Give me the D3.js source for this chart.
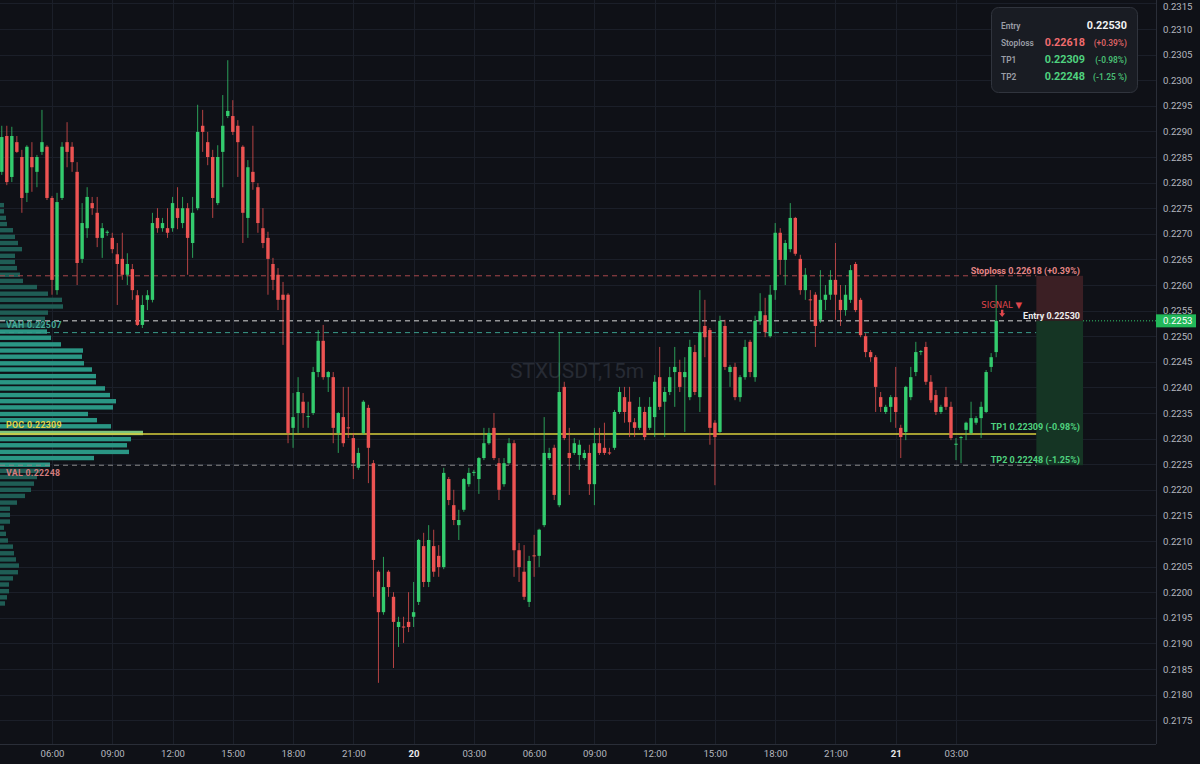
<!DOCTYPE html>
<html><head><meta charset="utf-8">
<script src="https://cdn.jsdelivr.net/npm/d3@7"></script>
<style>
html,body{margin:0;padding:0;background:#0f1117;}
svg{display:block;}
</style></head><body>
<svg id="c" width="1200" height="764"></svg>
<script>
// ---------------- DATA ----------------
const symbolLabel = "STXUSDT,15m";
const startTime = "2024-03-19T03:30:00Z";   // first candle
const intervalMinutes = 15;

const open = [
.22821,.22891,.22811,.22879,.22850,.22780,.22850,.22821,.22860,.22870,
.22770,.22590,.22770,.22879,.22870,.22821,.22651,.22711,.22760,.22741,
.22692,.22702,.22692,.22660,.22651,.22620,.22631,.22580,.22522,.22571,
.22571,.22731,.22711,.22711,.22711,.22750,.22721,.22750,.22682,.22750,
.22911,.22879,.22850,.22760,.22860,.22930,.22930,.22911,.22870,.22731,
.22821,.22791,.22711,.22692,.22641,.22620,.22581,.22581,.22321,.22350,
.22372,.22342,.22350,.22430,.22491,.22420,.22420,.22311,.22342,.22322,
.22301,.22243,.22311,.22360,.22252,.22040,.21961,.22040,.21991,.21932,
.21933,.21942,.21952,.21981,.22090,.22020,.22090,.22071,.22049,.22221,
.22170,.22131,.22161,.22211,.22233,.22221,.22262,.22291,.22321,.22252,
.22211,.22252,.22291,.22082,.22040,.21981,.22072,.22071,.22131,.22262,
.22282,.22170,.22401,.22272,.22272,.22268,.22262,.22272,.22211,.22291,
.22282,.22273,.22282,.22352,.22381,.22372,.22332,.22321,.22352,.22321,
.22342,.22420,.22372,.22391,.22430,.22430,.22420,.22381,.22469,.22381,
.22520,.22512,.22331,.22313,.22520,.22430,.22440,.22381,.22420,.22489,
.22420,.22530,.22541,.22500,.22590,.22702,.22649,.22670,.22731,.22651,
.22590,.22572,.22581,.22532,.22571,.22581,.22610,.22571,.22551,.22571,
.22641,.22571,.22500,.22469,.22459,.22381,.22352,.22362,.22381,.22321,
.22313,.22381,.22430,.22469,.22479,.22411,.22385,.22352,.22381,.22362,
.22288,.22301,.22317,.22311,.22331,.22340,.22352,.22440,.22469];

const high = [
.22911,.22911,.22909,.22891,.22864,.22873,.22879,.22854,.22942,.22873,
.22774,.22780,.22879,.22918,.22879,.22840,.22760,.22791,.22772,.22772,
.22721,.22707,.22702,.22682,.22702,.22662,.22641,.22590,.22580,.22590,
.22741,.22750,.22731,.22750,.22772,.22791,.22772,.22760,.22772,.22952,
.22942,.22899,.22864,.22873,.22971,.23039,.22961,.22922,.22873,.22844,
.22911,.22799,.22750,.22704,.22653,.22633,.22606,.22584,.22389,.22420,
.22389,.22372,.22440,.22512,.22522,.22432,.22430,.22352,.22401,.22401,
.22311,.22282,.22375,.22366,.22258,.22043,.22069,.22043,.22000,.21952,
.21952,.22000,.22020,.22104,.22116,.22131,.22122,.22092,.22243,.22225,
.22200,.22161,.22223,.22243,.22239,.22264,.22321,.22321,.22350,.22262,
.22262,.22301,.22297,.22096,.22092,.22071,.22112,.22124,.22342,.22282,
.22288,.22508,.22411,.22321,.22301,.22297,.22278,.22288,.22321,.22321,
.22331,.22282,.22356,.22401,.22401,.22401,.22340,.22381,.22362,.22381,
.22424,.22479,.22401,.22440,.22479,.22454,.22459,.22493,.22483,.22590,
.22571,.22516,.22336,.22540,.22532,.22444,.22448,.22424,.22493,.22493,
.22540,.22584,.22575,.22600,.22721,.22711,.22688,.22760,.22733,.22659,
.22633,.22590,.22586,.22629,.22600,.22629,.22682,.22600,.22600,.22639,
.22645,.22575,.22506,.22473,.22463,.22391,.22366,.22385,.22440,.22327,
.22403,.22440,.22489,.22473,.22489,.22424,.22395,.22366,.22401,.22372,
.22301,.22305,.22333,.22372,.22344,.22372,.22434,.22467,.22600];

const low = [
.22815,.22795,.22801,.22858,.22741,.22762,.22782,.22791,.22854,.22766,
.22581,.22581,.22766,.22830,.22821,.22600,.22643,.22692,.22737,.22674,
.22653,.22696,.22662,.22561,.22610,.22600,.22571,.22520,.22516,.22551,
.22566,.22702,.22704,.22692,.22704,.22709,.22711,.22620,.22653,.22746,
.22860,.22834,.22731,.22756,.22791,.22926,.22893,.22811,.22682,.22692,
.22786,.22702,.22672,.22581,.22590,.22551,.22483,.22291,.22282,.22311,
.22321,.22321,.22346,.22420,.22415,.22391,.22291,.22272,.22284,.22301,
.22221,.22239,.22307,.22213,.21991,.21823,.21956,.21991,.21852,.21893,
.21901,.21922,.21932,.21975,.22010,.22010,.22030,.22030,.22045,.22170,
.22131,.22102,.22157,.22206,.22227,.22192,.22258,.22288,.22258,.22180,
.22206,.22249,.22030,.22020,.21985,.21971,.22030,.22049,.22127,.22258,
.22180,.22166,.22297,.22190,.22268,.22239,.22258,.22190,.22170,.22268,
.22268,.22268,.22278,.22348,.22331,.22303,.22303,.22317,.22297,.22317,
.22303,.22356,.22303,.22385,.22362,.22391,.22313,.22375,.22385,.22352,
.22459,.22288,.22209,.22311,.22434,.22401,.22375,.22372,.22415,.22420,
.22411,.22522,.22498,.22497,.22571,.22620,.22600,.22664,.22657,.22581,
.22571,.22532,.22479,.22526,.22551,.22571,.22532,.22520,.22540,.22565,
.22547,.22498,.22459,.22450,.22352,.22352,.22348,.22332,.22321,.22262,
.22297,.22375,.22422,.22463,.22405,.22370,.22346,.22348,.22356,.22297,
.22258,.22252,.22297,.22307,.22327,.22301,.22350,.22430,.22459];

const close = [
.22889,.22801,.22891,.22860,.22770,.22870,.22830,.22850,.22879,.22770,
.22610,.22762,.22870,.22860,.22840,.22643,.22721,.22772,.22750,.22692,
.22711,.22704,.22670,.22641,.22620,.22641,.22590,.22522,.22561,.22580,
.22721,.22711,.22721,.22702,.22760,.22731,.22750,.22692,.22741,.22899,
.22899,.22850,.22770,.22850,.22911,.22940,.22899,.22879,.22741,.22830,
.22801,.22721,.22682,.22651,.22610,.22571,.22571,.22311,.22342,.22391,
.22350,.22344,.22430,.22491,.22420,.22430,.22321,.22350,.22291,.22320,
.22252,.22272,.22372,.22282,.22063,.21961,.22010,.22010,.21942,.21942,
.21931,.21932,.21961,.22102,.22020,.22102,.22040,.22049,.22233,.22180,
.22141,.22141,.22221,.22233,.22235,.22262,.22291,.22311,.22262,.22200,
.22252,.22291,.22082,.22049,.21991,.22061,.22070,.22122,.22272,.22272,
.22190,.22391,.22301,.22262,.22291,.22288,.22272,.22211,.22291,.22272,
.22272,.22271,.22352,.22391,.22352,.22332,.22321,.22362,.22303,.22362,
.22411,.22362,.22391,.22420,.22440,.22401,.22430,.22479,.22391,.22508,
.22498,.22321,.22303,.22530,.22440,.22440,.22381,.22420,.22479,.22430,
.22530,.22549,.22508,.22581,.22702,.22649,.22682,.22731,.22661,.22590,
.22620,.22570,.22520,.22571,.22581,.22610,.22581,.22551,.22581,.22629,
.22551,.22502,.22469,.22459,.22401,.22362,.22362,.22381,.22352,.22303,
.22401,.22420,.22469,.22471,.22411,.22375,.22352,.22362,.22362,.22301,
.22290,.22303,.22331,.22340,.22340,.22362,.22430,.22459,.22530];

// volume profile (price level of each row, relative volume)
const profileLevels = [
.22756,.22744,.22731,.22719,.22707,.22694,.22682,.22670,.22657,.22645,
.22633,.22620,.22608,.22596,.22583,.22571,.22558,.22546,.22534,.22521,
.22509,.22497,.22484,.22472,.22460,.22447,.22435,.22422,.22410,.22398,
.22385,.22373,.22361,.22348,.22336,.22324,.22311,.22299,.22287,.22274,
.22262,.22249,.22237,.22225,.22212,.22200,.22188,.22175,.22163,.22151,
.22138,.22126,.22114,.22101,.22089,.22076,.22064,.22052,.22039,.22027,
.22015,.22002,.21990,.21978];
const profileVolume = [
4,4,6,7,13,15,18,22,15,15,
17,20,23,37,48,62,63,48,45,45,
47,51,61,83,82,84,92,96,96,105,
110,116,113,88,97,111,143,131,127,129,
94,50,40,37,34,31,25,17,10,10,
10,4,6,8,13,14,16,19,18,13,
9,9,7,5];
const VAH = 0.22507, POC = 0.22309, VAL = 0.22248;

// trade levels
const entryPrice = 0.22530, stopPrice = 0.22618, tp1Price = 0.22309, tp2Price = 0.22248;
const stopPct = "+0.39%", tp1Pct = "-0.98%", tp2Pct = "-1.25%";
const lastPriceLabel = "0.2253";

// axis ticks
const priceTicks = [0.2175,0.2180,0.2185,0.2190,0.2195,0.2200,0.2205,0.2210,0.2215,0.2220,
  0.2225,0.2230,0.2235,0.2240,0.2245,0.2250,0.2255,0.2260,0.2265,0.2270,0.2275,0.2280,
  0.2285,0.2290,0.2295,0.2300,0.2305,0.2310,0.2315];
const timeTicks = ["2024-03-19T06:00:00Z","2024-03-19T09:00:00Z","2024-03-19T12:00:00Z","2024-03-19T15:00:00Z",
  "2024-03-19T18:00:00Z","2024-03-19T21:00:00Z","2024-03-20T00:00:00Z","2024-03-20T03:00:00Z",
  "2024-03-20T06:00:00Z","2024-03-20T09:00:00Z","2024-03-20T12:00:00Z","2024-03-20T15:00:00Z",
  "2024-03-20T18:00:00Z","2024-03-20T21:00:00Z","2024-03-21T00:00:00Z","2024-03-21T03:00:00Z"];

// ---------------- DRAW ----------------
const W = 1200, H = 764, plotR = 1156, plotB = 744;
const C = {bg:"#0f1117", grid:"#1b1f29", axisText:"#b4b7bf", up:"#34cc6e", down:"#ec5352"};
const FONT = "Roboto, 'Liberation Sans', sans-serif";
const svg = d3.select("#c");

const x = d3.scaleUtc()
  .domain([new Date("2024-03-19T06:00:00Z"), new Date("2024-03-21T03:00:00Z")])
  .range([52, 956]);
const y = d3.scaleLinear().domain([0.2175, 0.2310]).range([720.2, 29]);
const t0 = new Date(startTime).getTime();
const candles = open.map((o, i) => ({
  t: new Date(t0 + i * intervalMinutes * 60000), o, h: high[i], l: low[i], c: close[i]
}));
const lastT = candles[candles.length - 1].t;
const boxX0 = x(new Date(lastT.getTime() + 8 * 15 * 60000));
const boxX1 = x(new Date(lastT.getTime() + 17.3 * 15 * 60000));

svg.append("rect").attr("width", W).attr("height", H).attr("fill", C.bg);
svg.append("defs").append("clipPath").attr("id", "plot")
  .append("rect").attr("x", 0).attr("y", 0).attr("width", plotR).attr("height", plotB);
const plot = svg.append("g").attr("clip-path", "url(#plot)");

// grid
plot.append("g").selectAll("line").data(priceTicks).join("line")
  .attr("x1", 0).attr("x2", plotR).attr("y1", d => Math.round(y(d)) + 0.5).attr("y2", d => Math.round(y(d)) + 0.5)
  .attr("stroke", C.grid).attr("stroke-width", 1);
plot.append("g").selectAll("line").data(timeTicks).join("line")
  .attr("x1", d => Math.round(x(new Date(d))) + 0.5).attr("x2", d => Math.round(x(new Date(d))) + 0.5)
  .attr("y1", 0).attr("y2", plotB)
  .attr("stroke", C.grid).attr("stroke-width", 1);

// watermark
plot.append("text").attr("x", 577).attr("y", 378).attr("text-anchor", "middle")
  .attr("font-family", FONT).attr("font-size", 21).attr("fill", "#272b34").text(symbolLabel);

// volume profile
const vx = d3.scaleLinear().domain([0, 150]).range([0, 150]);
plot.append("g").selectAll("rect").data(profileLevels).join("rect")
  .attr("x", 0).attr("y", d => y(d) - 2.2).attr("height", 4.4)
  .attr("width", (d, i) => vx(profileVolume[i]))
  .attr("fill", (d, i) => {
    if (profileVolume[i] === d3.max(profileVolume)) return "#7cc47c";
    return (d <= VAH + 0.00003 && d >= VAL - 0.00003) ? "#2a9684" : "#1f5d55";
  });

// level lines
function hline(p, color, dash, w) {
  plot.append("line").attr("x1", 0).attr("x2", boxX0)
    .attr("y1", y(p)).attr("y2", y(p))
    .attr("stroke", color).attr("stroke-width", w || 1)
    .attr("stroke-dasharray", dash);
}
hline(stopPrice, "#a8474c", "5,4");
hline(VAH, "#3a9c8b", "5,4");
hline(tp2Price, "#8a8a8a", "5,4");
hline(entryPrice, "#d6d6d6", "5,4");
hline(POC, "#d8cf3c", null, 1.6);

// position box
plot.append("rect").attr("x", boxX0).attr("width", boxX1 - boxX0)
  .attr("y", y(stopPrice)).attr("height", y(entryPrice) - y(stopPrice)).attr("fill", "#3b1f24");
plot.append("rect").attr("x", boxX0).attr("width", boxX1 - boxX0)
  .attr("y", y(entryPrice)).attr("height", y(tp2Price) - y(entryPrice)).attr("fill", "#153524");
plot.append("line").attr("x1", boxX1).attr("x2", plotR).attr("y1", y(entryPrice)).attr("y2", y(entryPrice))
  .attr("stroke", C.up).attr("stroke-width", 1).attr("stroke-dasharray", "1,2");

// candles
const bw = 3.4;
const cg = plot.append("g");
cg.selectAll("line").data(candles).join("line")
  .attr("x1", d => x(d.t)).attr("x2", d => x(d.t))
  .attr("y1", d => y(d.h)).attr("y2", d => y(d.l))
  .attr("stroke", d => d.c >= d.o ? C.up : C.down).attr("stroke-width", 1).attr("stroke-opacity", 0.75);
cg.selectAll("rect").data(candles).join("rect")
  .attr("x", d => x(d.t) - bw / 2).attr("width", bw)
  .attr("y", d => y(Math.max(d.o, d.c)))
  .attr("height", d => Math.max(1, Math.abs(y(d.o) - y(d.c))))
  .attr("fill", d => d.c >= d.o ? C.up : C.down);

// profile labels
function ltxt(txt, yy, color) {
  plot.append("text").attr("x", 6).attr("y", yy).attr("font-family", FONT)
    .attr("font-size", 8.8).attr("font-weight", 700).attr("fill", color)
    .attr("letter-spacing", 0.3).attr("dominant-baseline", "middle").text(txt);
}
ltxt("VAH  " + VAH.toFixed(5), y(VAH) - 6.5, "#45a898");
ltxt("POC  " + POC.toFixed(5), y(POC) - 8, "#e2d448");
ltxt("VAL  " + VAL.toFixed(5), y(VAL) + 8, "#d27c7e");

// trade labels
function rtxt(txt, yy, color, weight, size) {
  plot.append("text").attr("x", 1080).attr("y", yy).attr("text-anchor", "end")
    .attr("font-family", FONT).attr("font-size", size || 9).attr("font-weight", weight || 700)
    .attr("fill", color).attr("dominant-baseline", "middle").text(txt);
}
rtxt(`Stoploss ${stopPrice.toFixed(5)} (${stopPct})`, y(stopPrice) - 4.5, "#e58585");
rtxt(`Entry ${entryPrice.toFixed(5)}`, y(entryPrice) - 4.5, "#ececec");
rtxt(`TP1 ${tp1Price.toFixed(5)} (${tp1Pct})`, y(tp1Price) - 6, "#4fd27f");
rtxt(`TP2 ${tp2Price.toFixed(5)} (${tp2Pct})`, y(tp2Price) - 4.5, "#4fd27f");

// signal marker
const sx = x(lastT) + 6;
plot.append("text").attr("x", 1022).attr("y", y(entryPrice) - 15).attr("text-anchor", "end")
  .attr("font-family", "'DejaVu Sans', " + FONT).attr("font-size", 8.5).attr("fill", "#e0474c")
  .attr("dominant-baseline", "middle").text("SIGNAL ▼");
plot.append("path")
  .attr("d", `M${sx - 1.2},${y(entryPrice) - 11} h2.4 v3.5 h1.8 l-3,3.6 l-3,-3.6 h1.8 z`)
  .attr("fill", "#e0474c");

// axes lines
svg.append("line").attr("x1", plotR + 0.5).attr("x2", plotR + 0.5).attr("y1", 0).attr("y2", plotB)
  .attr("stroke", "#2a2e38");
svg.append("line").attr("x1", 0).attr("x2", plotR).attr("y1", plotB + 0.5).attr("y2", plotB + 0.5)
  .attr("stroke", "#2a2e38");

// right axis
const yAxis = d3.axisRight(y).tickValues(priceTicks).tickFormat(d3.format(".4f")).tickSize(0).tickPadding(7);
const ya = svg.append("g").attr("transform", `translate(${plotR},0)`).call(yAxis);
ya.select(".domain").remove();
ya.selectAll("text").attr("font-family", FONT).attr("font-size", 9.6).attr("fill", C.axisText)
  .attr("dy", d => d > 0.2312 ? "0.62em" : "0.32em");

// last price tag
svg.append("rect").attr("x", plotR).attr("y", y(entryPrice) - 6.5).attr("width", 40).attr("height", 13)
  .attr("fill", "#22b85a");
svg.append("text").attr("x", plotR + 7).attr("y", y(entryPrice) + 0.5).attr("dominant-baseline", "middle")
  .attr("font-family", FONT).attr("font-size", 9.6).attr("fill", "#ffffff").text(lastPriceLabel);

// bottom axis
const xAxis = d3.axisBottom(x).tickValues(timeTicks.map(d => new Date(d)))
  .tickFormat(d => d.getUTCHours() === 0 ? d3.utcFormat("%-d")(d) : d3.utcFormat("%H:%M")(d))
  .tickSize(0).tickPadding(6);
const xa = svg.append("g").attr("transform", `translate(0,${plotB})`).call(xAxis);
xa.select(".domain").remove();
xa.selectAll("text").attr("font-family", FONT).attr("font-size", 9.6)
  .attr("fill", d => d.getUTCHours() === 0 ? "#e8e8ea" : C.axisText)
  .attr("font-weight", d => d.getUTCHours() === 0 ? 700 : 400);

// info box
const ib = svg.append("g");
ib.append("rect").attr("x", 991.5).attr("y", 7.5).attr("width", 146).attr("height", 85).attr("rx", 7)
  .attr("fill", "#191c23").attr("stroke", "#30343d");
const rows = [
  {k: "Entry", v: entryPrice.toFixed(5), pct: null, col: "#f2f2f2"},
  {k: "Stoploss", v: stopPrice.toFixed(5), pct: "(" + stopPct + ")", col: "#ef6b6e"},
  {k: "TP1", v: tp1Price.toFixed(5), pct: "(" + tp1Pct + ")", col: "#4fd27f"},
  {k: "TP2", v: tp2Price.toFixed(5), pct: "(-1.25 %)", col: "#4fd27f"}
];
rows.forEach((r, i) => {
  const yy = 26.5 + i * 17;
  ib.append("text").attr("x", 1001).attr("y", yy).attr("dominant-baseline", "middle")
    .attr("font-family", FONT).attr("font-size", 8.4).attr("font-weight", 600).attr("fill", "#9b9ea6").text(r.k);
  if (r.pct === null) {
    ib.append("text").attr("x", 1127).attr("y", yy).attr("text-anchor", "end").attr("dominant-baseline", "middle")
      .attr("font-family", FONT).attr("font-size", 10.8).attr("font-weight", 700).attr("fill", r.col).text(r.v);
  } else {
    ib.append("text").attr("x", 1085).attr("y", yy).attr("text-anchor", "end").attr("dominant-baseline", "middle")
      .attr("font-family", FONT).attr("font-size", 10.8).attr("font-weight", 700).attr("fill", r.col).text(r.v);
    ib.append("text").attr("x", 1127).attr("y", yy + 0.5).attr("text-anchor", "end").attr("dominant-baseline", "middle")
      .attr("font-family", FONT).attr("font-size", 8.4).attr("font-weight", 600).attr("fill", r.col).attr("fill-opacity", 0.9).text(r.pct);
  }
});
</script>
</body></html>
